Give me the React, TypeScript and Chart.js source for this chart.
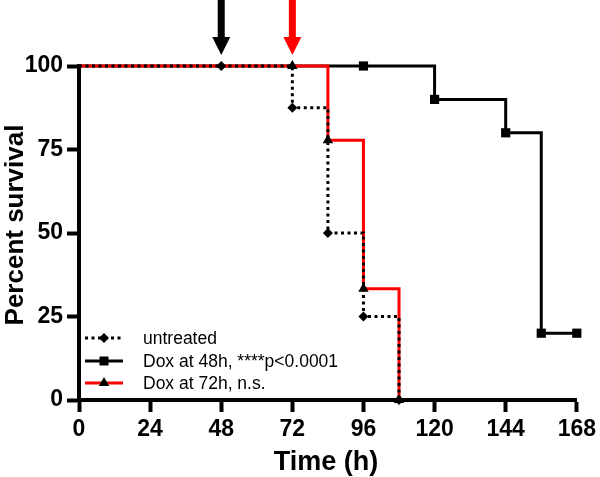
import React, { useEffect, useRef } from 'react';
import { Chart, registerables } from 'chart.js';

Chart.register(...registerables);

// ---- data ----
const timeTicks = [0, 24, 48, 72, 96, 120, 144, 168];
const survivalTicks = [0, 25, 50, 75, 100];

const untreatedTimes = [0, 48, 72, 84, 96, 108];
const untreatedSurvival = [100, 100, 87.5, 50, 25, 0];

const dox48Times = [0, 96, 120, 144, 156, 168];
const dox48Survival = [100, 100, 90, 80, 20, 20];

const dox72Times = [0, 72, 84, 96, 108];
const dox72Survival = [100, 100, 77.8, 33.3, 0];

const seriesLabels = ['untreated', 'Dox at 48h, ****p<0.0001', 'Dox at 72h, n.s.'];
const arrowTimes = [48, 72];
const arrowColors = ['#000000', '#ff0000'];

const xTitle = 'Time (h)';
const yTitle = 'Percent survival';

const BOLD_FAMILY = '"Liberation Sans", Arial, Helvetica, sans-serif';
const LEGEND_FONT = '17.5px "Liberation Sans", Arial, sans-serif';
const TITLE_FONT = 'bold 27px "Liberation Sans", Arial, sans-serif';
const YTITLE_FONT = 'bold 26px "Liberation Sans", Arial, sans-serif';

function toPoints(xs: number[], ys: number[]) {
  return xs.map((x, i) => ({ x, y: ys[i] }));
}

function drawMarker(ctx: CanvasRenderingContext2D, style: string, x: number, y: number) {
  ctx.save();
  ctx.fillStyle = '#000';
  ctx.beginPath();
  if (style === 'diamond') {
    const r = 5;
    ctx.moveTo(x, y - r);
    ctx.lineTo(x + r, y);
    ctx.lineTo(x, y + r);
    ctx.lineTo(x - r, y);
    ctx.closePath();
  } else if (style === 'square') {
    const h = 4.5;
    ctx.rect(x - h, y - h, 2 * h, 2 * h);
  } else {
    const r = 6;
    ctx.moveTo(x, y - r);
    ctx.lineTo(x + r * 0.87, y + r * 0.5);
    ctx.lineTo(x - r * 0.87, y + r * 0.5);
    ctx.closePath();
  }
  ctx.fill();
  ctx.restore();
}

const overlayPlugin = {
  id: 'overlay',
  afterDraw(chart: any) {
    const ctx: CanvasRenderingContext2D = chart.ctx;
    const { left, right, top, bottom } = chart.chartArea;
    const xs = chart.scales.x;

    // arrows
    arrowTimes.forEach((t, i) => {
      const x = xs.getPixelForValue(t);
      const tipY = top - 11;
      const headY = top - 29;
      ctx.save();
      ctx.fillStyle = arrowColors[i];
      ctx.fillRect(x - 3.5, 0, 7, headY + 1);
      ctx.beginPath();
      ctx.moveTo(x - 9, headY);
      ctx.lineTo(x + 9, headY);
      ctx.lineTo(x, tipY);
      ctx.closePath();
      ctx.fill();
      ctx.restore();
    });

    // axis titles
    ctx.save();
    ctx.fillStyle = '#000';
    ctx.font = TITLE_FONT;
    ctx.textAlign = 'center';
    ctx.textBaseline = 'alphabetic';
    ctx.fillText(xTitle, (left + right) / 2 - 2, bottom + 70);
    ctx.restore();

    ctx.save();
    ctx.fillStyle = '#000';
    ctx.font = YTITLE_FONT;
    ctx.textAlign = 'center';
    ctx.textBaseline = 'alphabetic';
    ctx.translate(23, (top + bottom) / 2 - 8);
    ctx.rotate(-Math.PI / 2);
    ctx.fillText(yTitle, 0, 0);
    ctx.restore();

    // legend
    const rows = [bottom - 62, bottom - 39, bottom - 17];
    const styles = [
      { color: '#000', dash: [3, 3.5], marker: 'diamond' },
      { color: '#000', dash: [], marker: 'square' },
      { color: '#ff0000', dash: [], marker: 'triangle' },
    ];
    const x0 = left + 6;
    const x1 = left + 44;
    rows.forEach((y, i) => {
      const s = styles[i];
      ctx.save();
      ctx.strokeStyle = s.color;
      ctx.lineWidth = 3;
      ctx.setLineDash(s.dash);
      ctx.beginPath();
      ctx.moveTo(x0, y);
      ctx.lineTo(x1, y);
      ctx.stroke();
      ctx.restore();
      drawMarker(ctx, s.marker, (x0 + x1) / 2, y);
      ctx.save();
      ctx.fillStyle = '#000';
      ctx.font = LEGEND_FONT;
      ctx.textAlign = 'left';
      ctx.textBaseline = 'middle';
      ctx.fillText(seriesLabels[i], left + 64, y + 1);
      ctx.restore();
    });
  },
};

export default function App() {
  const ref = useRef<HTMLCanvasElement | null>(null);

  useEffect(() => {
    if (!ref.current) return;
    const noFirst = (arr: number[], r: number) => arr.map((_, i) => (i === 0 ? 0 : r));
    const chart = new Chart(ref.current, {
      type: 'line',
      data: {
        datasets: [
          {
            label: seriesLabels[0],
            data: toPoints(untreatedTimes, untreatedSurvival),
            stepped: 'before',
            borderColor: '#000',
            borderWidth: 3,
            borderDash: [3, 3.5],
            pointStyle: 'rectRot',
            pointRadius: noFirst(untreatedTimes, 5),
            pointBackgroundColor: '#000',
            pointBorderWidth: 0,
            clip: false,
          },
          {
            label: seriesLabels[2],
            data: toPoints(dox72Times, dox72Survival),
            stepped: 'before',
            borderColor: '#ff0000',
            borderWidth: 3,
            pointStyle: 'triangle',
            pointRadius: noFirst(dox72Times, 6),
            pointBackgroundColor: '#000',
            pointBorderWidth: 0,
            clip: false,
          },
          {
            label: seriesLabels[1],
            data: toPoints(dox48Times, dox48Survival),
            stepped: 'before',
            borderColor: '#000',
            borderWidth: 3,
            pointStyle: 'rect',
            pointRadius: noFirst(dox48Times, 6.5),
            pointBackgroundColor: '#000',
            pointBorderWidth: 0,
            clip: false,
          },
        ],
      },
      options: {
        responsive: false,
        animation: false,
        devicePixelRatio: 1,
        layout: { padding: { top: 66, right: 18, left: 0, bottom: 0 } },
        plugins: {
          legend: { display: false },
          tooltip: { enabled: false },
        },
        scales: {
          x: {
            type: 'linear',
            min: 0,
            max: 168,
            afterBuildTicks: (s: any) => {
              s.ticks = timeTicks.map((v) => ({ value: v }));
            },
            afterFit: (s: any) => {
              s.height = 77;
            },
            border: { display: true, width: 4, color: '#000' },
            grid: {
              display: true,
              drawOnChartArea: false,
              drawTicks: true,
              tickLength: 12,
              tickWidth: 4,
              tickColor: '#000',
            },
            ticks: {
              color: '#000',
              padding: 4,
              maxRotation: 0,
              autoSkip: false,
              font: { family: BOLD_FAMILY, size: 23, weight: 'bold' },
            },
            title: { display: false, text: xTitle },
          },
          y: {
            type: 'linear',
            min: 0,
            max: 100,
            afterBuildTicks: (s: any) => {
              s.ticks = survivalTicks.map((v) => ({ value: v }));
            },
            afterFit: (s: any) => {
              s.width = 79;
            },
            border: { display: true, width: 4, color: '#000' },
            grid: {
              display: true,
              drawOnChartArea: false,
              drawTicks: true,
              tickLength: 12,
              tickWidth: 4,
              tickColor: '#000',
            },
            ticks: {
              color: '#000',
              padding: 4,
              autoSkip: false,
              font: { family: BOLD_FAMILY, size: 23, weight: 'bold' },
            },
            title: { display: false, text: yTitle },
          },
        },
      },
      plugins: [overlayPlugin],
    } as any);
    return () => chart.destroy();
  }, []);

  return (
    <div style={{ position: 'absolute', left: 0, top: 0, width: 600, height: 477, background: '#fff' }}>
      <canvas ref={ref} width={600} height={477} style={{ display: 'block' }} />
    </div>
  );
}
